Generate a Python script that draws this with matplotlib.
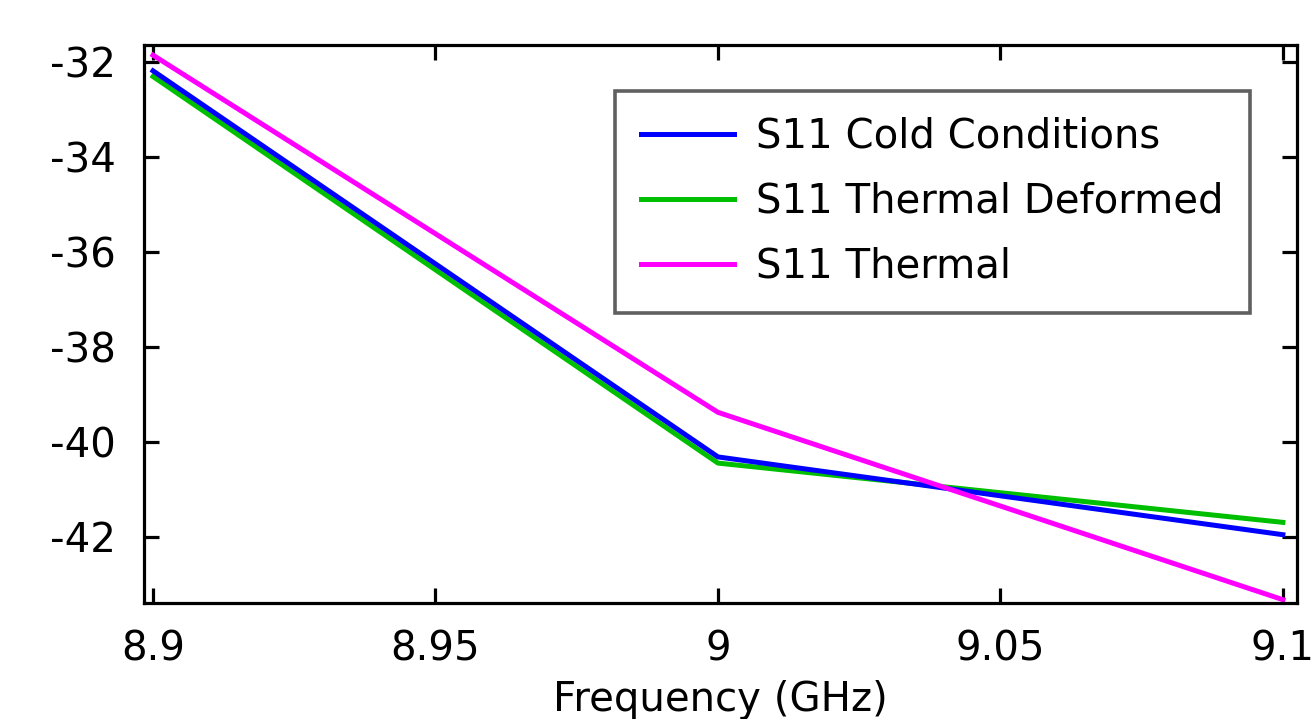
import matplotlib
matplotlib.use('Agg')
from matplotlib import pyplot as plt

freq = [8.9, 9.0, 9.1]
s11_cold = [-32.18, -40.32, -41.96]
s11_deformed = [-32.30, -40.45, -41.70]
s11_thermal = [-31.85, -39.38, -43.33]

xticks = [8.9, 8.95, 9.0, 9.05, 9.1]
xtick_labels = ['8.9', '8.95', '9', '9.05', '9.1']
yticks = [-42, -40, -38, -36, -34, -32]

plt.rcParams['font.family'] = ['DejaVu Sans']
plt.rcParams['axes.unicode_minus'] = False

fig = plt.figure(figsize=(13.15, 7.19), dpi=100)
ax = fig.add_axes([144 / 1315, 1 - 603 / 719, (1297 - 144) / 1315, (603 - 45) / 719])

ax.plot(freq, s11_cold, color='#0000ff', lw=3.6, label='S11 Cold Conditions')
ax.plot(freq, s11_deformed, color='#00bf00', lw=3.6, label='S11 Thermal Deformed', zorder=1.9)
ax.plot(freq, s11_thermal, color='#ff00ff', lw=3.6, label='S11 Thermal')

ax.set_xlim(8.8984, 9.1025)
ax.set_ylim(-43.40, -31.635)
ax.set_xticks(xticks)
ax.set_xticklabels(xtick_labels)
ax.set_yticks(yticks)

for s in ax.spines.values():
    s.set_linewidth(2.3)
ax.tick_params(direction='in', length=11, width=2.3, labelsize=29,
               top=True, right=True)
ax.tick_params(axis='x', pad=19)
ax.tick_params(axis='y', pad=20)

ax.set_xlabel('Frequency (GHz)', fontsize=29, labelpad=8)

leg = ax.legend(loc='upper right', bbox_to_anchor=(0.959, 0.918), borderaxespad=0,
                fontsize=29, handlelength=2.3, handletextpad=0.55,
                labelspacing=0.62, borderpad=0.65, fancybox=False)
leg.get_frame().set_edgecolor('#383838')
leg.get_frame().set_linewidth(2.6)
for h in leg.get_lines():
    h.set_linewidth(3.6)

plt.savefig('out.png', dpi=100)
